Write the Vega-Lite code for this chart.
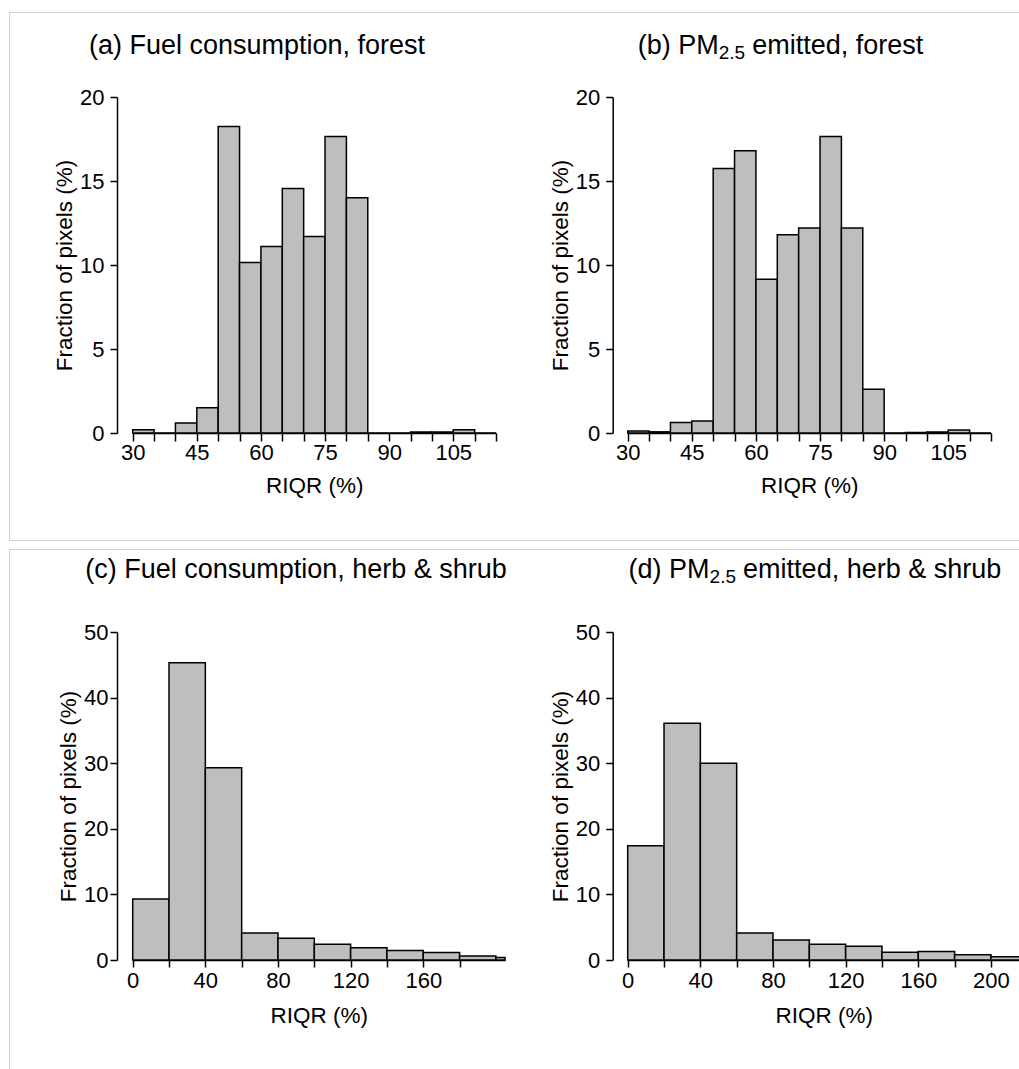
{
  "$schema": "https://vega.github.io/schema/vega-lite/v6.json",
  "padding": {"left": 8, "top": 11, "right": 0, "bottom": 0},
  "background": "white",
  "spacing": 7,
  "config": {
    "view": {"stroke": "#d0d0d0", "strokeWidth": 1},
    "font": "Liberation Sans",
    "text": {"font": "Liberation Sans", "fill": "#000", "baseline": "alphabetic"},
    "axis": {
      "grid": false,
      "domainColor": "#000", "tickColor": "#000", "labelColor": "#000", "titleColor": "#000",
      "domainWidth": 1.5, "tickWidth": 1.5,
      "labelFont": "Liberation Sans", "titleFont": "Liberation Sans",
      "labelFontSize": 22, "titleFontSize": 22.5, "titleFontWeight": "normal",
      "labelOverlap": false, "labelFlush": false
    },
    "axisX": {"tickSize": 8, "labelPadding": 1, "titlePadding": 11},
    "axisY": {"tickSize": 7, "labelPadding": 6, "titlePadding": 3, "labelAngle": 0}
  },
  "datasets": {
    "a": [
      {"lo": 30, "hi": 35, "pct": 0.2}, {"lo": 35, "hi": 40, "pct": 0}, {"lo": 40, "hi": 45, "pct": 0.6},
      {"lo": 45, "hi": 50, "pct": 1.5}, {"lo": 50, "hi": 55, "pct": 18.25}, {"lo": 55, "hi": 60, "pct": 10.15},
      {"lo": 60, "hi": 65, "pct": 11.1}, {"lo": 65, "hi": 70, "pct": 14.55}, {"lo": 70, "hi": 75, "pct": 11.7},
      {"lo": 75, "hi": 80, "pct": 17.65}, {"lo": 80, "hi": 85, "pct": 14.0}, {"lo": 85, "hi": 90, "pct": 0},
      {"lo": 90, "hi": 95, "pct": 0}, {"lo": 95, "hi": 100, "pct": 0.06}, {"lo": 100, "hi": 105, "pct": 0.06},
      {"lo": 105, "hi": 110, "pct": 0.2}, {"lo": 110, "hi": 115, "pct": 0}
    ],
    "b": [
      {"lo": 30, "hi": 35, "pct": 0.12}, {"lo": 35, "hi": 40, "pct": 0.07}, {"lo": 40, "hi": 45, "pct": 0.63},
      {"lo": 45, "hi": 50, "pct": 0.72}, {"lo": 50, "hi": 55, "pct": 15.75}, {"lo": 55, "hi": 60, "pct": 16.8},
      {"lo": 60, "hi": 65, "pct": 9.15}, {"lo": 65, "hi": 70, "pct": 11.8}, {"lo": 70, "hi": 75, "pct": 12.2},
      {"lo": 75, "hi": 80, "pct": 17.65}, {"lo": 80, "hi": 85, "pct": 12.2}, {"lo": 85, "hi": 90, "pct": 2.6},
      {"lo": 90, "hi": 95, "pct": 0}, {"lo": 95, "hi": 100, "pct": 0.03}, {"lo": 100, "hi": 105, "pct": 0.06},
      {"lo": 105, "hi": 110, "pct": 0.18}, {"lo": 110, "hi": 115, "pct": 0}
    ],
    "c": [
      {"lo": 0, "hi": 20, "pct": 9.3}, {"lo": 20, "hi": 40, "pct": 45.3}, {"lo": 40, "hi": 60, "pct": 29.3},
      {"lo": 60, "hi": 80, "pct": 4.1}, {"lo": 80, "hi": 100, "pct": 3.3}, {"lo": 100, "hi": 120, "pct": 2.4},
      {"lo": 120, "hi": 140, "pct": 1.85}, {"lo": 140, "hi": 160, "pct": 1.45}, {"lo": 160, "hi": 180, "pct": 1.15},
      {"lo": 180, "hi": 200, "pct": 0.6}, {"lo": 200, "hi": 220, "pct": 0.4}
    ],
    "d": [
      {"lo": 0, "hi": 20, "pct": 17.4}, {"lo": 20, "hi": 40, "pct": 36.1}, {"lo": 40, "hi": 60, "pct": 30.0},
      {"lo": 60, "hi": 80, "pct": 4.1}, {"lo": 80, "hi": 100, "pct": 3.05}, {"lo": 100, "hi": 120, "pct": 2.4},
      {"lo": 120, "hi": 140, "pct": 2.1}, {"lo": 140, "hi": 160, "pct": 1.2}, {"lo": 160, "hi": 180, "pct": 1.3},
      {"lo": 180, "hi": 200, "pct": 0.8}, {"lo": 200, "hi": 220, "pct": 0.5}
    ]
  },
  "vconcat": [
    {
      "width": 1010,
      "height": 528,
      "resolve": {"scale": {"x": "independent", "y": "independent"}, "axis": {"x": "independent", "y": "independent"}},
      "layer": [
        {
          "data": {"name": "a"},
          "mark": {"type": "rect", "fill": "#bebebe", "stroke": "#000", "strokeWidth": 1.5},
          "encoding": {
            "x": {"field": "lo", "type": "quantitative",
              "scale": {"domain": [30, 115], "range": [123.7, 487], "nice": false, "zero": false},
              "axis": {"orient": "bottom", "offset": -107, "title": "RIQR (%)",
                "values": [30, 35, 40, 45, 50, 55, 60, 65, 70, 75, 80, 85, 90, 95, 100, 105, 110, 115],
                "labelExpr": "datum.value % 15 === 0 ? datum.label : ''"}},
            "x2": {"field": "hi"},
            "y": {"field": "pct", "type": "quantitative",
              "scale": {"domain": [0, 20], "range": [421, 85], "nice": false},
              "axis": {"orient": "left", "offset": -108, "title": "Fraction of pixels (%)", "values": [0, 5, 10, 15, 20]}},
            "y2": {"datum": 0}
          }
        },
        {
          "data": {"values": [{}]},
          "mark": {"type": "text", "text": "(a) Fuel consumption, forest", "fontSize": 27, "align": "center"},
          "encoding": {
            "x": {"datum": 59.08, "type": "quantitative", "scale": {"domain": [30, 115], "range": [123.7, 487], "nice": false, "zero": false}, "axis": null},
            "y": {"datum": 22.56, "type": "quantitative", "scale": {"domain": [0, 20], "range": [421, 85], "nice": false}, "axis": null}
          }
        },
        {
          "data": {"name": "b"},
          "mark": {"type": "rect", "fill": "#bebebe", "stroke": "#000", "strokeWidth": 1.5},
          "encoding": {
            "x": {"field": "lo", "type": "quantitative",
              "scale": {"domain": [30, 115], "range": [618.7, 982], "nice": false, "zero": false},
              "axis": {"orient": "bottom", "offset": -107, "title": "RIQR (%)",
                "values": [30, 35, 40, 45, 50, 55, 60, 65, 70, 75, 80, 85, 90, 95, 100, 105, 110, 115],
                "labelExpr": "datum.value % 15 === 0 ? datum.label : ''"}},
            "x2": {"field": "hi"},
            "y": {"field": "pct", "type": "quantitative",
              "scale": {"domain": [0, 20], "range": [421, 85], "nice": false},
              "axis": {"orient": "left", "offset": -603.7, "title": "Fraction of pixels (%)", "values": [0, 5, 10, 15, 20]}},
            "y2": {"datum": 0}
          }
        },
        {
          "data": {"values": [{}]},
          "mark": {"type": "text", "text": "(b) PM", "fontSize": 27, "align": "right"},
          "encoding": {
            "x": {"datum": 51.29, "type": "quantitative", "scale": {"domain": [30, 115], "range": [618.7, 982], "nice": false, "zero": false}, "axis": null},
            "y": {"datum": 22.56, "type": "quantitative", "scale": {"domain": [0, 20], "range": [421, 85], "nice": false}, "axis": null}
          }
        },
        {
          "data": {"values": [{}]},
          "mark": {"type": "text", "text": "2.5", "fontSize": 19, "align": "left"},
          "encoding": {
            "x": {"datum": 51.29, "type": "quantitative", "scale": {"domain": [30, 115], "range": [618.7, 982], "nice": false, "zero": false}, "axis": null},
            "y": {"datum": 22.26, "type": "quantitative", "scale": {"domain": [0, 20], "range": [421, 85], "nice": false}, "axis": null}
          }
        },
        {
          "data": {"values": [{}]},
          "mark": {"type": "text", "text": "emitted, forest", "fontSize": 27, "align": "left"},
          "encoding": {
            "x": {"datum": 59.13, "type": "quantitative", "scale": {"domain": [30, 115], "range": [618.7, 982], "nice": false, "zero": false}, "axis": null},
            "y": {"datum": 22.56, "type": "quantitative", "scale": {"domain": [0, 20], "range": [421, 85], "nice": false}, "axis": null}
          }
        }
      ]
    },
    {
      "width": 1010,
      "height": 522,
      "resolve": {"scale": {"x": "independent", "y": "independent"}, "axis": {"x": "independent", "y": "independent"}},
      "layer": [
        {
          "data": {"name": "c"},
          "mark": {"type": "rect", "fill": "#bebebe", "stroke": "#000", "strokeWidth": 1.5},
          "encoding": {
            "x": {"field": "lo", "type": "quantitative",
              "scale": {"domain": [0, 205], "range": [123.7, 496], "nice": false, "zero": false, "clamp": true},
              "axis": {"orient": "bottom", "offset": -111, "title": "RIQR (%)", "tickSize": 7, "labelPadding": 3, "titlePadding": 13,
                "values": [0, 20, 40, 60, 80, 100, 120, 140, 160, 180],
                "labelExpr": "datum.value % 40 === 0 ? datum.label : ''"}},
            "x2": {"field": "hi"},
            "y": {"field": "pct", "type": "quantitative",
              "scale": {"domain": [0, 50], "range": [411, 83], "nice": false},
              "axis": {"orient": "left", "offset": -108, "title": "Fraction of pixels (%)", "labelPadding": 2, "values": [0, 10, 20, 30, 40, 50]}},
            "y2": {"datum": 0}
          }
        },
        {
          "data": {"values": [{}]},
          "mark": {"type": "text", "text": "(c) Fuel consumption, herb & shrub", "fontSize": 27, "align": "center"},
          "encoding": {
            "x": {"datum": 89.92, "type": "quantitative", "scale": {"domain": [0, 205], "range": [123.7, 496], "nice": false, "zero": false, "clamp": true}, "axis": null},
            "y": {"datum": 58.23, "type": "quantitative", "scale": {"domain": [0, 50], "range": [411, 83], "nice": false}, "axis": null}
          }
        },
        {
          "data": {"name": "d"},
          "mark": {"type": "rect", "fill": "#bebebe", "stroke": "#000", "strokeWidth": 1.5},
          "encoding": {
            "x": {"field": "lo", "type": "quantitative",
              "scale": {"domain": [0, 216], "range": [618.7, 1011], "nice": false, "zero": false, "clamp": true},
              "axis": {"orient": "bottom", "offset": -111, "title": "RIQR (%)", "tickSize": 7, "labelPadding": 3, "titlePadding": 13,
                "values": [0, 20, 40, 60, 80, 100, 120, 140, 160, 180, 200],
                "labelExpr": "datum.value % 40 === 0 ? datum.label : ''"}},
            "x2": {"field": "hi"},
            "y": {"field": "pct", "type": "quantitative",
              "scale": {"domain": [0, 50], "range": [411, 83], "nice": false},
              "axis": {"orient": "left", "offset": -603.7, "title": "Fraction of pixels (%)", "values": [0, 10, 20, 30, 40, 50]}},
            "y2": {"datum": 0}
          }
        },
        {
          "data": {"values": [{}]},
          "mark": {"type": "text", "text": "(d) PM", "fontSize": 27, "align": "right"},
          "encoding": {
            "x": {"datum": 45.09, "type": "quantitative", "scale": {"domain": [0, 216], "range": [618.7, 1011], "nice": false, "zero": false, "clamp": true}, "axis": null},
            "y": {"datum": 58.23, "type": "quantitative", "scale": {"domain": [0, 50], "range": [411, 83], "nice": false}, "axis": null}
          }
        },
        {
          "data": {"values": [{}]},
          "mark": {"type": "text", "text": "2.5", "fontSize": 19, "align": "left"},
          "encoding": {
            "x": {"datum": 45.09, "type": "quantitative", "scale": {"domain": [0, 216], "range": [618.7, 1011], "nice": false, "zero": false, "clamp": true}, "axis": null},
            "y": {"datum": 57.47, "type": "quantitative", "scale": {"domain": [0, 50], "range": [411, 83], "nice": false}, "axis": null}
          }
        },
        {
          "data": {"values": [{}]},
          "mark": {"type": "text", "text": "emitted, herb & shrub", "fontSize": 27, "align": "left"},
          "encoding": {
            "x": {"datum": 63.54, "type": "quantitative", "scale": {"domain": [0, 216], "range": [618.7, 1011], "nice": false, "zero": false, "clamp": true}, "axis": null},
            "y": {"datum": 58.23, "type": "quantitative", "scale": {"domain": [0, 50], "range": [411, 83], "nice": false}, "axis": null}
          }
        }
      ]
    }
  ]
}
